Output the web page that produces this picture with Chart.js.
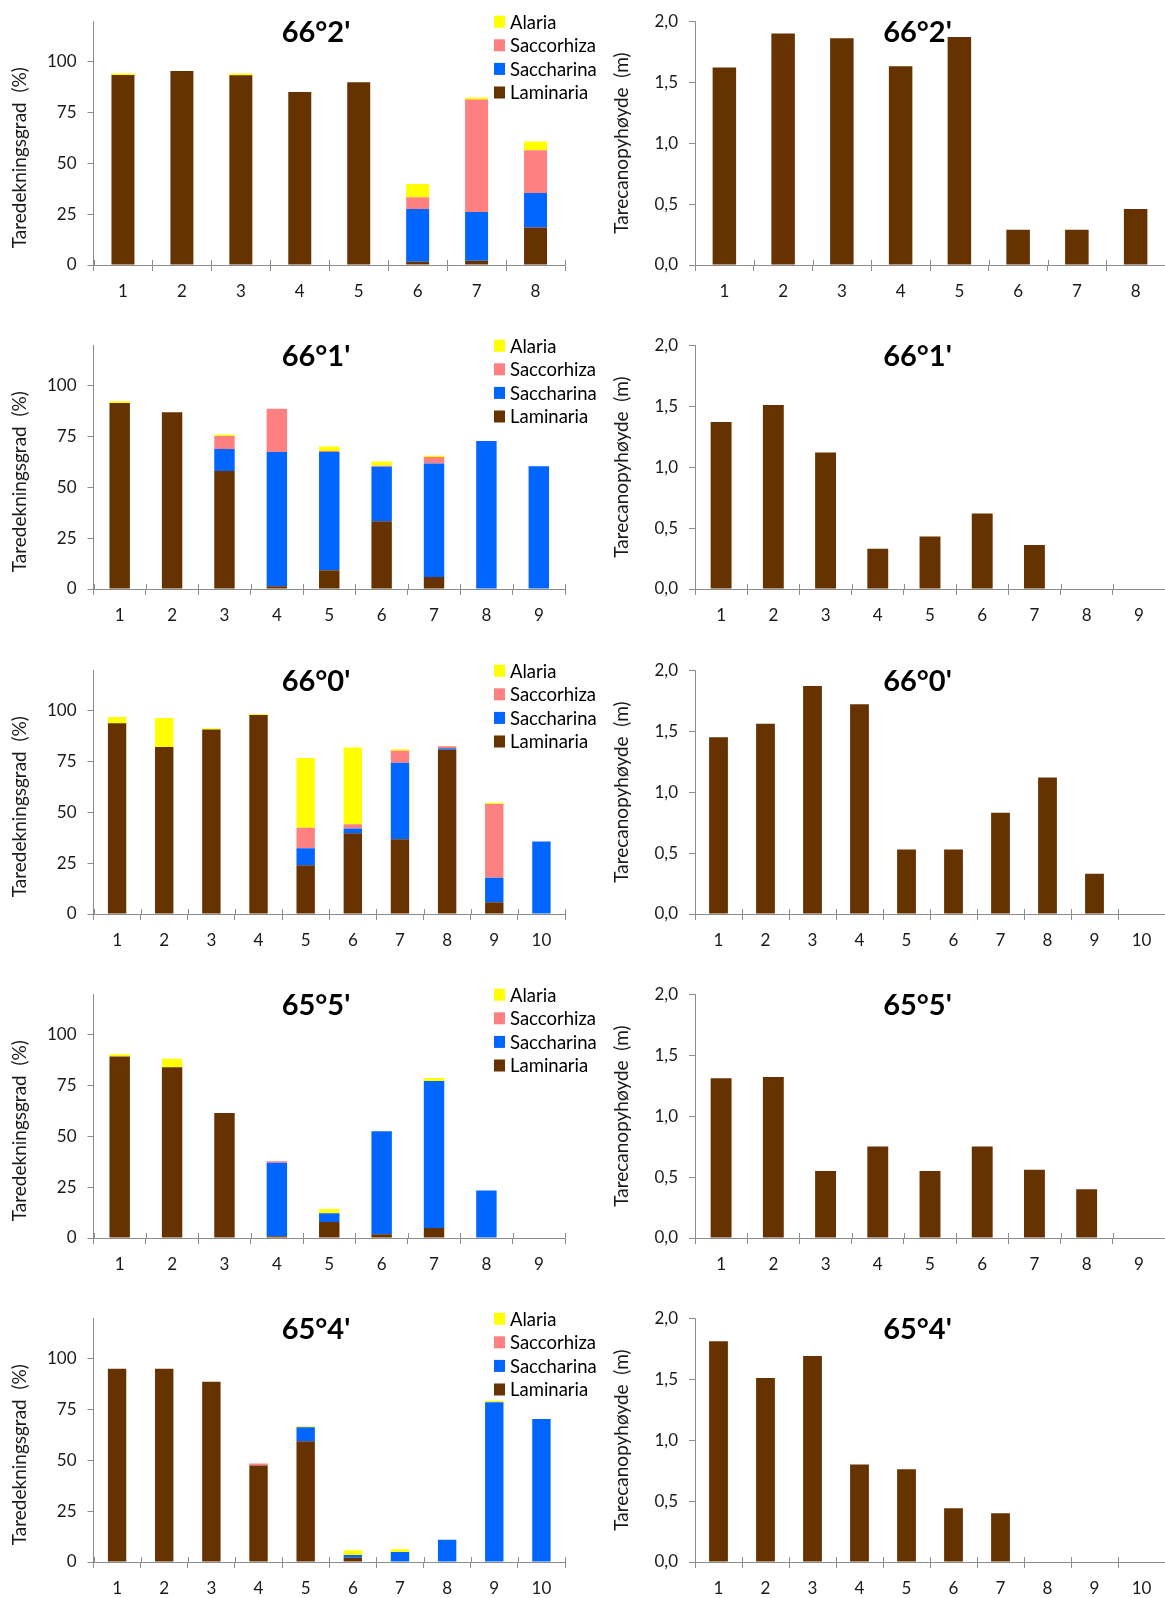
<!DOCTYPE html>
<html>
<head>
<meta charset="utf-8">
<title>Taredekningsgrad og tarecanopyhøyde</title>
<script src="https://cdn.jsdelivr.net/npm/chart.js@4.4.1/dist/chart.umd.min.js"></script>
<style>
  html, body { margin: 0; padding: 0; background: #fff; overflow: hidden; }
  .panel { position: absolute; }
  .panel canvas { display: block; }
</style>
</head>
<body>
<div id="page"></div>
<script>
// one row per latitude, left = cover per species (stacked), right = canopy height
const titles = ["66°2'", "66°1'", "66°0'", "65°5'", "65°4'"];

const stations = [
  ["1", "2", "3", "4", "5", "6", "7", "8"],
  ["1", "2", "3", "4", "5", "6", "7", "8", "9"],
  ["1", "2", "3", "4", "5", "6", "7", "8", "9", "10"],
  ["1", "2", "3", "4", "5", "6", "7", "8", "9"],
  ["1", "2", "3", "4", "5", "6", "7", "8", "9", "10"]
];

const laminaria = [
  [93.5, 95.5, 93.4, 85.1, 90.0, 1.6, 2.1, 18.4],
  [91.6, 87.0, 58.1, 1.3, 9.2, 33.4, 5.9, 0, 0],
  [93.9, 82.2, 90.8, 97.9, 24.0, 39.8, 36.8, 80.9, 5.8, 0],
  [89.3, 84.0, 61.5, 0.8, 7.9, 1.8, 4.9, 0.3, 0],
  [95.1, 95.1, 88.7, 47.5, 59.4, 2.1, 0, 0, 0, 0]
];
const saccharina = [
  [0, 0, 0, 0, 0, 26.0, 24.0, 17.1],
  [0, 0, 10.8, 66.1, 58.2, 26.8, 55.9, 72.9, 60.4],
  [0, 0, 0, 0, 8.4, 2.3, 37.7, 0.7, 12.1, 35.7],
  [0, 0, 0, 36.2, 4.3, 50.8, 72.4, 23.1, 0],
  [0, 0, 0, 0, 6.9, 1.4, 4.9, 11.0, 78.6, 70.4]
];
const saccorhiza = [
  [0, 0, 0, 0, 0, 5.7, 55.3, 21.0],
  [0, 0, 6.4, 21.3, 0.5, 0.5, 3.2, 0, 0],
  [0, 0, 0, 0, 10.0, 2.1, 5.8, 1.0, 36.2, 0],
  [0, 0, 0, 0.8, 0, 0, 0, 0, 0],
  [0, 0, 0, 1.0, 0, 0, 0, 0, 0, 0]
];
const alaria = [
  [0.8, 0, 0.8, 0, 0, 6.6, 1.0, 4.3],
  [0.8, 0, 0.8, 0, 2.2, 2.1, 0.6, 0, 0],
  [3.1, 14.3, 0.6, 0.6, 34.4, 37.7, 0.8, 0, 0.7, 0],
  [1.2, 4.2, 0, 0, 2.1, 0, 1.5, 0, 0],
  [0, 0, 0, 0, 0.5, 2.3, 1.4, 0, 0.8, 0]
];
const canopy = [
  [1.62, 1.90, 1.86, 1.63, 1.87, 0.29, 0.29, 0.46],
  [1.37, 1.51, 1.12, 0.33, 0.43, 0.62, 0.36, null, null],
  [1.45, 1.56, 1.87, 1.72, 0.53, 0.53, 0.83, 1.12, 0.33, null],
  [1.31, 1.32, 0.55, 0.75, 0.55, 0.75, 0.56, 0.40, null],
  [1.81, 1.51, 1.69, 0.80, 0.76, 0.44, 0.40, null, null, null]
];

const coverTicks = [0, 25, 50, 75, 100];
const heightTicks = [0, 0.5, 1.0, 1.5, 2.0];

const BROWN = "#663300";
const BLUE = "#0066ff";
const PINK = "#ff8080";
const YELLOW = "#ffff00";
const AXIS = "#8c8c8c";
const TEXT = "#1a1a1a";
const FONT = "Lato, 'Open Sans', sans-serif";

const ROW_H = 324.25;

// title, legend and the inner half of the "cross" tick marks
const panelDecor = {
  id: "panelDecor",
  afterDraw(chart, args, opts) {
    const ctx = chart.ctx;
    const area = chart.chartArea;
    const xs = chart.scales.x;
    ctx.save();

    ctx.fillStyle = "#000";
    ctx.font = "bold 29px " + FONT;
    ctx.textAlign = "center";
    ctx.textBaseline = "alphabetic";
    ctx.fillText(opts.title, area.left + 222.5, area.top + 21);

    if (opts.legend) {
      const items = chart.data.datasets.slice().reverse();
      ctx.font = "18.5px " + FONT;
      ctx.textAlign = "left";
      ctx.textBaseline = "middle";
      items.forEach((ds, i) => {
        const cy = area.top + 0.5 + i * 23.6;
        ctx.fillStyle = ds.backgroundColor;
        ctx.fillRect(area.right - 71, cy - 6, 11, 12);
        ctx.fillStyle = "#000";
        ctx.fillText(ds.label, area.right - 55, cy + 1);
      });
    }

    const n = chart.data.labels.length;
    ctx.strokeStyle = AXIS;
    ctx.lineWidth = 1;
    ctx.beginPath();
    for (let i = 0; i <= n; i++) {
      const px = Math.round(xs.left + i * xs.width / n) + 0.5;
      ctx.moveTo(px, area.bottom);
      ctx.lineTo(px, area.bottom - 5);
    }
    ctx.stroke();
    ctx.restore();
  }
};

function axisBase(extra) {
  return Object.assign({
    grid: { drawOnChartArea: false, tickLength: 6, color: AXIS },
    border: { color: AXIS }
  }, extra);
}

function xScale() {
  return axisBase({
    stacked: true,
    offset: true,
    grid: { drawOnChartArea: false, tickLength: 6, color: AXIS, offset: true },
    ticks: { color: TEXT, font: { family: FONT, size: 17 }, padding: 10, maxRotation: 0 },
    afterFit: s => { s.height = 59; }
  });
}

function makeCover(row, canvas) {
  return new Chart(canvas, {
    type: "bar",
    data: {
      labels: stations[row],
      datasets: [
        { label: "Laminaria", data: laminaria[row], backgroundColor: BROWN },
        { label: "Saccharina", data: saccharina[row], backgroundColor: BLUE },
        { label: "Saccorhiza", data: saccorhiza[row], backgroundColor: PINK },
        { label: "Alaria", data: alaria[row], backgroundColor: YELLOW }
      ]
    },
    options: {
      responsive: false,
      animation: false,
      devicePixelRatio: 1,
      categoryPercentage: 1,
      barPercentage: 0.39,
      layout: { padding: { top: 21, right: 35, left: 0, bottom: 0 } },
      plugins: {
        legend: { display: false },
        tooltip: { enabled: false },
        panelDecor: { title: titles[row], legend: true }
      },
      scales: {
        x: xScale(),
        y: axisBase({
          stacked: true,
          min: 0,
          max: 120,
          afterBuildTicks: s => { s.ticks = coverTicks.map(v => ({ value: v })); },
          ticks: { color: TEXT, font: { family: FONT, size: 17 }, padding: 11 },
          title: {
            display: true,
            text: "Taredekningsgrad  (%)      ",
            color: TEXT,
            font: { family: FONT, size: 19 },
            padding: { top: 8, bottom: 0 }
          },
          afterFit: s => { s.width = 93.5; }
        })
      }
    },
    plugins: [panelDecor]
  });
}

function makeHeight(row, canvas) {
  return new Chart(canvas, {
    type: "bar",
    data: {
      labels: stations[row],
      datasets: [
        { label: "Tarecanopyhøyde", data: canopy[row], backgroundColor: BROWN }
      ]
    },
    options: {
      responsive: false,
      animation: false,
      devicePixelRatio: 1,
      categoryPercentage: 1,
      barPercentage: 0.4,
      layout: { padding: { top: 21, right: 0, left: 0, bottom: 0 } },
      plugins: {
        legend: { display: false },
        tooltip: { enabled: false },
        panelDecor: { title: titles[row], legend: false }
      },
      scales: {
        x: xScale(),
        y: axisBase({
          min: 0,
          max: 2,
          afterBuildTicks: s => { s.ticks = heightTicks.map(v => ({ value: v })); },
          ticks: {
            color: TEXT,
            font: { family: FONT, size: 17 },
            padding: 11,
            callback: v => v.toFixed(1).replace(".", ",")
          },
          title: {
            display: true,
            text: "Tarecanopyhøyde  (m)",
            color: TEXT,
            font: { family: FONT, size: 19 },
            padding: { top: 10, bottom: 0 }
          },
          afterFit: s => { s.width = 95; }
        })
      }
    },
    plugins: [panelDecor]
  });
}

const page = document.getElementById("page");

function addPanel(left, top, width, height) {
  const div = document.createElement("div");
  div.className = "panel";
  div.style.left = left + "px";
  div.style.top = top + "px";
  const canvas = document.createElement("canvas");
  canvas.width = width;
  canvas.height = height;
  canvas.style.width = width + "px";
  canvas.style.height = height + "px";
  div.appendChild(canvas);
  page.appendChild(div);
  return canvas;
}

for (let row = 0; row < titles.length; row++) {
  const top = Math.round(row * ROW_H);
  makeCover(row, addPanel(0, top, 600, 324));
  makeHeight(row, addPanel(600, top, 565, 324));
}
</script>
</body>
</html>
